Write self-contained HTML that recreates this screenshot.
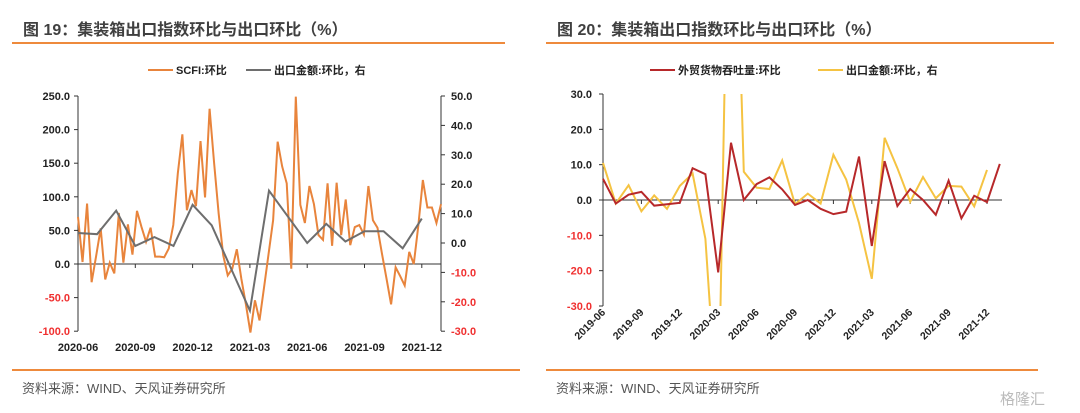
<!DOCTYPE html>
<html><head><meta charset="utf-8"><style>
body{margin:0;width:1080px;height:413px;background:#fff;overflow:hidden;font-family:"Liberation Sans","Noto Sans CJK SC",sans-serif;}
.t{position:absolute;font-size:16px;font-weight:bold;color:#404040;}
.src{position:absolute;font-size:13px;color:#555;}
.rule{position:absolute;height:2px;background:#ee8a3c;}
</style></head><body>
<div class="t" style="left:23px;top:16px">图 19：集装箱出口指数环比与出口环比（%）</div>
<div class="t" style="left:557px;top:16px">图 20：集装箱出口指数环比与出口环比（%）</div>
<div class="rule" style="left:12px;top:42px;width:493px"></div>
<div class="rule" style="left:546px;top:42px;width:508px"></div>
<div class="rule" style="left:12px;top:369px;width:508px"></div>
<div class="rule" style="left:546px;top:369px;width:492px"></div>
<div class="src" style="left:22px;top:378px">资料来源：WIND、天风证券研究所</div>
<div class="src" style="left:556px;top:378px">资料来源：WIND、天风证券研究所</div>
<div class="src" style="left:1000px;top:388px;color:#bbb;font-size:15px">格隆汇</div>
<svg id="c" width="1080" height="413" style="position:absolute;left:0;top:0"></svg>
<script>
const leftTicks=[250,200,150,100,50,0,-50,-100];
const rightTicks=[50,40,30,20,10,0,-10,-20,-30];
const leftXLabels=["2020-06","2020-09","2020-12","2021-03","2021-06","2021-09","2021-12"];
const scfi=[70,3,90,-27,12,53,-23,2,-14,76,2,59,14,79,55,33,54,11,11,10,23,58,135,193,80,110,86,183,99,231,150,75,13,-17,-7,22,-22,-60,-102,-54,-84,-35,15,65,182,145,120,-7,249,88,61,116,89,43,36,120,27,121,43,96,28,55,58,44,116,65,54,15,-22,-60,-5,-18,-32,18,0,57,125,84,84,61,89];
const exportMoM=[3.4,3.0,11,-1,2,-1,13,6,-8.5,-23,17.8,8.9,0,6.5,0.5,4,4,-1.8,8.3];
const r2Ticks=[30,20,10,0,-10,-20,-30];
const r2Labels=["2019-06","2019-09","2019-12","2020-03","2020-06","2020-09","2020-12","2021-03","2021-06","2021-09","2021-12"];
const portThroughput=[6,-1,1.5,2.3,-1.6,-1.2,-0.8,9,7.3,-20.5,16.2,0,4.5,6.4,3,-1.4,0,-2.5,-4,-3.3,12.3,-13,11,-1.7,3.1,0,-4.2,5.5,-5.2,1.2,-0.6,10.2];
const exportMoM2=[10.5,-1,4.2,-3.2,1.3,-2.5,4,7.5,-11,-65,130,8,3.5,3.1,11.2,-1.2,1.8,-1,12.8,5.8,-6.5,-22.3,17.6,9,-0.5,6.5,0.5,4,3.8,-1.8,8.5];

const svg=document.getElementById('c');const NS="http://www.w3.org/2000/svg";
function mk(tag,attrs,txt){const e=document.createElementNS(NS,tag);for(const k in attrs)e.setAttribute(k,attrs[k]);if(txt!==undefined)e.textContent=txt;svg.appendChild(e);return e;}
const F='"Liberation Sans","Noto Sans CJK SC",sans-serif';
// left chart scales
const lY=v=>264-(v)*33.6/50, rY=v=>243-v*2.94;
const lx0=78,lx1=441;
const wX=i=>lx0+(lx1-lx0)*i/(scfi.length-1);
const mX=i=>78+i*19.1;
let e;
e=mk('line',{x1:78,y1:96,x2:78,y2:331,stroke:'#333','stroke-width':1});


e=mk('line',{x1:441,y1:96,x2:441,y2:331,stroke:'#333','stroke-width':1});


e=mk('line',{x1:78,y1:lY(0),x2:441,y2:lY(0),stroke:'#333','stroke-width':1});


leftTicks.forEach(v=>{mk('line',{x1:74,y1:lY(v),x2:78,y2:lY(v),stroke:'#333'});
e=mk('text',{x:70,y:lY(v)+4,'text-anchor':'end','font-size':11,'font-weight':'bold','font-family':F,fill:v<0?'#f03030':'#222'},v.toFixed(1));

});
rightTicks.forEach(v=>{mk('line',{x1:441,y1:rY(v),x2:445,y2:rY(v),stroke:'#333'});
e=mk('text',{x:451,y:rY(v)+4,'font-size':11,'font-weight':'bold','font-family':F,fill:v<0?'#f03030':'#222'},v.toFixed(1));

});
leftXLabels.forEach((l,i)=>{const x=mX(i*3);if(i>0)mk('line',{x1:x,y1:lY(0),x2:x,y2:lY(0)+4,stroke:'#333'});
e=mk('text',{x:x,y:351,'text-anchor':'middle','font-size':11,'font-weight':'bold','font-family':F,fill:'#222'},l);

});
e=mk('polyline',{points:scfi.map((v,i)=>wX(i)+','+lY(v)).join(' '),fill:'none',stroke:'#e8843c','stroke-width':2});


e=mk('polyline',{points:exportMoM.map((v,i)=>mX(i)+','+rY(v)).join(' '),fill:'none',stroke:'#6e6e6e','stroke-width':2});


// legend left
mk('line',{x1:148,y1:70,x2:173,y2:70,stroke:'#e8843c','stroke-width':2});
e=mk('text',{x:176,y:74,'font-size':11,'font-weight':'bold','font-family':F,fill:'#222'},'SCFI:环比');


mk('line',{x1:246,y1:70,x2:271,y2:70,stroke:'#6e6e6e','stroke-width':2});
e=mk('text',{x:274,y:74,'font-size':11,'font-weight':'bold','font-family':F,fill:'#222'},'出口金额:环比，右');


// right chart
const y2=v=>200-v*3.533; const x2=i=>603+i*12.8;
const defs=mk('defs',{});const cp=document.createElementNS(NS,'clipPath');cp.setAttribute('id','clip2');
const r=document.createElementNS(NS,'rect');r.setAttribute('x',600);r.setAttribute('y',y2(30));r.setAttribute('width',420);r.setAttribute('height',y2(-30)-y2(30));cp.appendChild(r);defs.appendChild(cp);
e=mk('line',{x1:603,y1:y2(30),x2:603,y2:y2(-30),stroke:'#333'});


e=mk('line',{x1:603,y1:y2(0),x2:1002,y2:y2(0),stroke:'#333'});


r2Ticks.forEach(v=>{mk('line',{x1:599,y1:y2(v),x2:603,y2:y2(v),stroke:'#333'});
e=mk('text',{x:592,y:y2(v)+4,'text-anchor':'end','font-size':11,'font-weight':'bold','font-family':F,fill:v<0?'#f03030':'#222'},v.toFixed(1));

});
r2Labels.forEach((l,i)=>{const x=x2(i*3);if(i>0)mk('line',{x1:x,y1:y2(0),x2:x,y2:y2(0)+4,stroke:'#333'});
e=mk('text',{x:x+3,y:313,'text-anchor':'end','font-size':10.5,'font-weight':'bold','font-family':F,fill:'#222',transform:`rotate(-45 ${x+3} 313)`},l);

});
e=mk('polyline',{points:exportMoM2.map((v,i)=>x2(i)+','+y2(v)).join(' '),fill:'none',stroke:'#f5c342','stroke-width':2,'clip-path':'url(#clip2)'});


e=mk('polyline',{points:portThroughput.map((v,i)=>x2(i)+','+y2(v)).join(' '),fill:'none',stroke:'#b7282a','stroke-width':2,'clip-path':'url(#clip2)'});


mk('line',{x1:650,y1:70,x2:675,y2:70,stroke:'#b7282a','stroke-width':2});
e=mk('text',{x:678,y:74,'font-size':11,'font-weight':'bold','font-family':F,fill:'#222'},'外贸货物吞吐量:环比');


mk('line',{x1:818,y1:70,x2:843,y2:70,stroke:'#f5c342','stroke-width':2});
e=mk('text',{x:846,y:74,'font-size':11,'font-weight':'bold','font-family':F,fill:'#222'},'出口金额:环比，右');


</script>
</body></html>
